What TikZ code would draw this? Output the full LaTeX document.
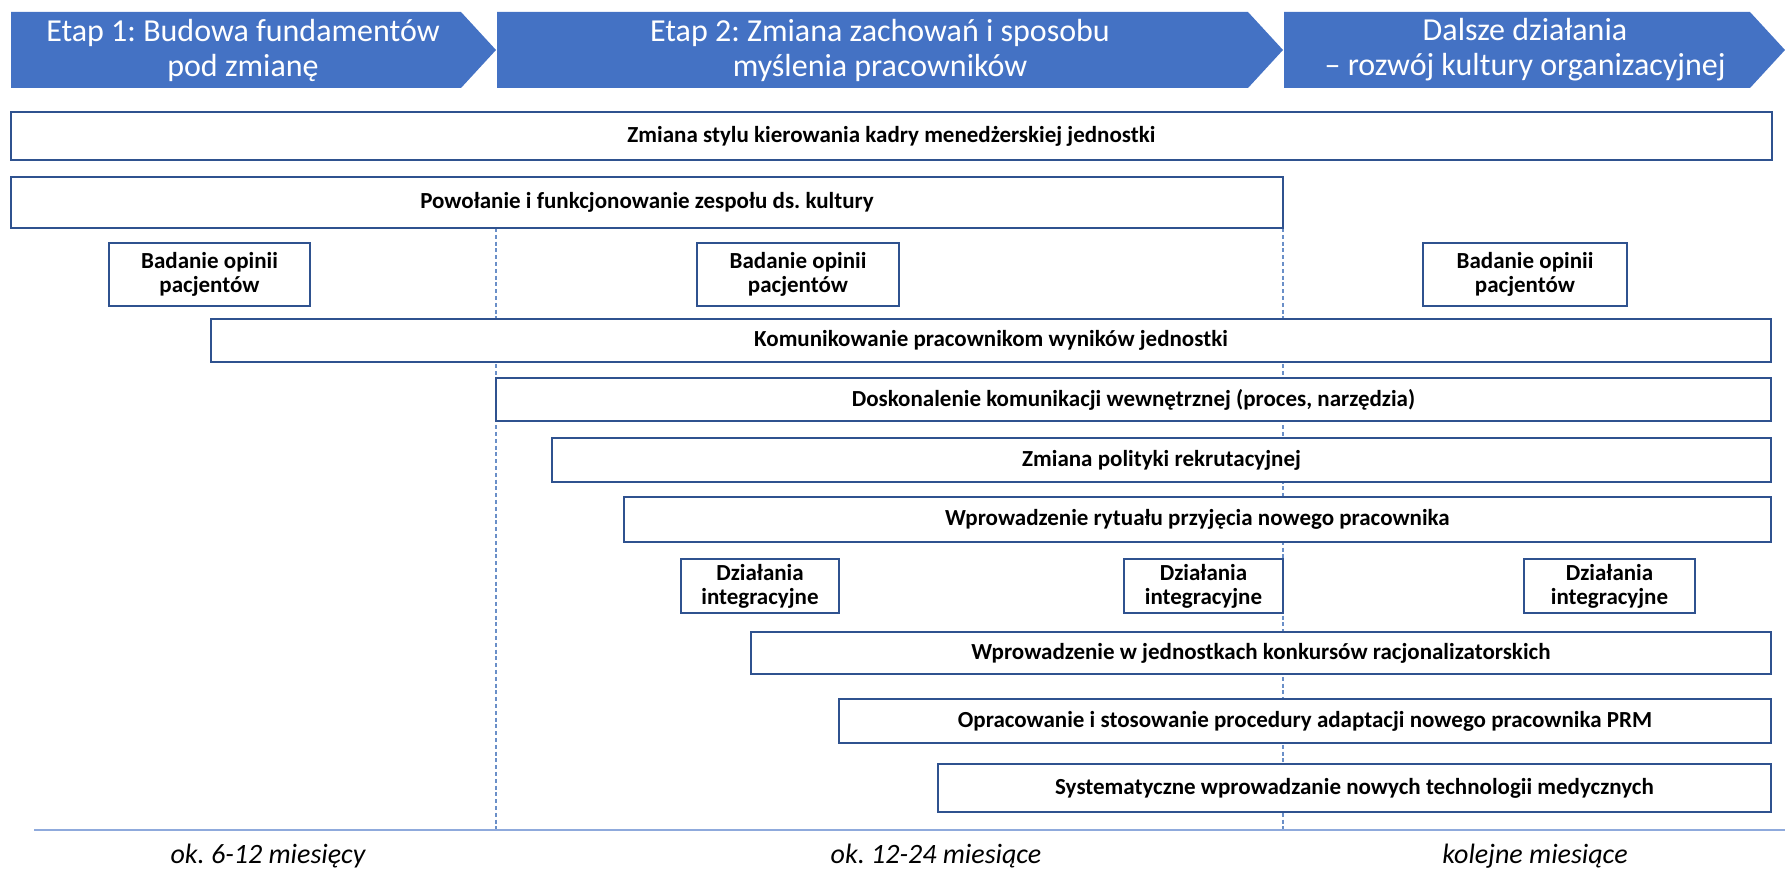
\documentclass[tikz,border=0pt]{standalone}
\usepackage{fontspec}
\setmainfont{Carlito}
\frenchspacing
\definecolor{hdr}{HTML}{4472C4}
\definecolor{edge}{HTML}{2F528F}
\definecolor{guidecol}{HTML}{6A8FC8}
\definecolor{axiscol}{HTML}{8FAADC}
\begin{document}
\begin{tikzpicture}[x=0.5pt,y=-0.5pt,
  task/.style={draw=edge, line width=1pt, fill=white, inner sep=0pt,
    font=\fontsize{11.5}{12}\selectfont\bfseries, align=center},
  phasefill/.style={fill=hdr},
  phasetext/.style={text=white, font=\fontsize{16}{17.5}\selectfont, align=center},
  period/.style={font=\fontsize{14}{16}\selectfont\itshape},
  guide/.style={draw=guidecol, line width=0.6pt, dash pattern=on 2pt off 1.4pt},
  axisline/.style={draw=axiscol, line width=1pt}]
\useasboundingbox (0,0) rectangle (1785,871);

% phase arrows
\path[phasefill] (11,12) -- (461,12) -- (496,50) -- (461,88) -- (11,88) -- cycle;
\path[phasefill] (497,12) -- (1248,12) -- (1283,50) -- (1248,88) -- (497,88) -- cycle;
\path[phasefill] (1284,12) -- (1750,12) -- (1785,50) -- (1750,88) -- (1284,88) -- cycle;
\node[phasetext] (p1) at (243,50) {Etap 1: Budowa fundamentów\\pod zmianę};
\node[phasetext] (p2) at (880,50) {Etap 2: Zmiana zachowań i sposobu\\myślenia pracowników};
\node[phasetext] (p3) at (1525,50) {Dalsze działania\\– rozwój kultury organizacyjnej};

% phase boundaries and time axis
\coordinate (g1a) at (496,228);
\coordinate (g1b) at (496,830);
\coordinate (g2a) at (1283,228);
\coordinate (g2b) at (1283,830);
\coordinate (ax1) at (34,830);
\coordinate (ax2) at (1785,830);
\draw[guide] (g1a) -- (g1b);
\draw[guide] (g2a) -- (g2b);
\draw[axisline] (ax1) -- (ax2);

% activities
\node[task, minimum width=880.5pt, minimum height=24pt] (t1) at (891.5,136)
  {Zmiana stylu kierowania kadry menedżerskiej jednostki};
\node[task, minimum width=636pt, minimum height=25.5pt] (t2) at (647,202.5)
  {Powołanie i funkcjonowanie zespołu ds. kultury};
\node[task, minimum width=100.5pt, minimum height=31.5pt] (b1) at (209.5,274.5)
  {Badanie opinii\\pacjentów};
\node[task, minimum width=101pt, minimum height=31.5pt] (b2) at (798,274.5)
  {Badanie opinii\\pacjentów};
\node[task, minimum width=102pt, minimum height=31.5pt] (b3) at (1525,274.5)
  {Badanie opinii\\pacjentów};
\node[task, minimum width=780pt, minimum height=21.5pt] (t3) at (991,340.5)
  {Komunikowanie pracownikom wyników jednostki};
\node[task, minimum width=637.5pt, minimum height=21.5pt] (t4) at (1133.5,399.5)
  {Doskonalenie komunikacji wewnętrznej (proces, narzędzia)};
\node[task, minimum width=609.5pt, minimum height=22pt] (t5) at (1161.5,460)
  {Zmiana polityki rekrutacyjnej};
\node[task, minimum width=573.5pt, minimum height=22.5pt] (t6) at (1197.5,519.5)
  {Wprowadzenie rytuału przyjęcia nowego pracownika};
\node[task, minimum width=79pt, minimum height=27pt] (d1) at (760,586)
  {Działania\\integracyjne};
\node[task, minimum width=79.5pt, minimum height=27pt] (d2) at (1203.5,586)
  {Działania\\integracyjne};
\node[task, minimum width=85.5pt, minimum height=27pt] (d3) at (1609.5,586)
  {Działania\\integracyjne};
\node[task, minimum width=510pt, minimum height=21pt] (t7) at (1261,653)
  {Wprowadzenie w jednostkach konkursów racjonalizatorskich};
\node[task, minimum width=466pt, minimum height=22pt] (t8) at (1305,721)
  {Opracowanie i stosowanie procedury adaptacji nowego pracownika PRM};
\node[task, minimum width=416.5pt, minimum height=24pt] (t9) at (1354.5,788)
  {Systematyczne wprowadzanie nowych technologii medycznych};

% durations
\node[period] (l1) at (268,856) {ok. 6-12 miesięcy};
\node[period] (l2) at (936,856) {ok. 12-24 miesiące};
\node[period] (l3) at (1535,856) {kolejne miesiące};
\end{tikzpicture}
\end{document}
